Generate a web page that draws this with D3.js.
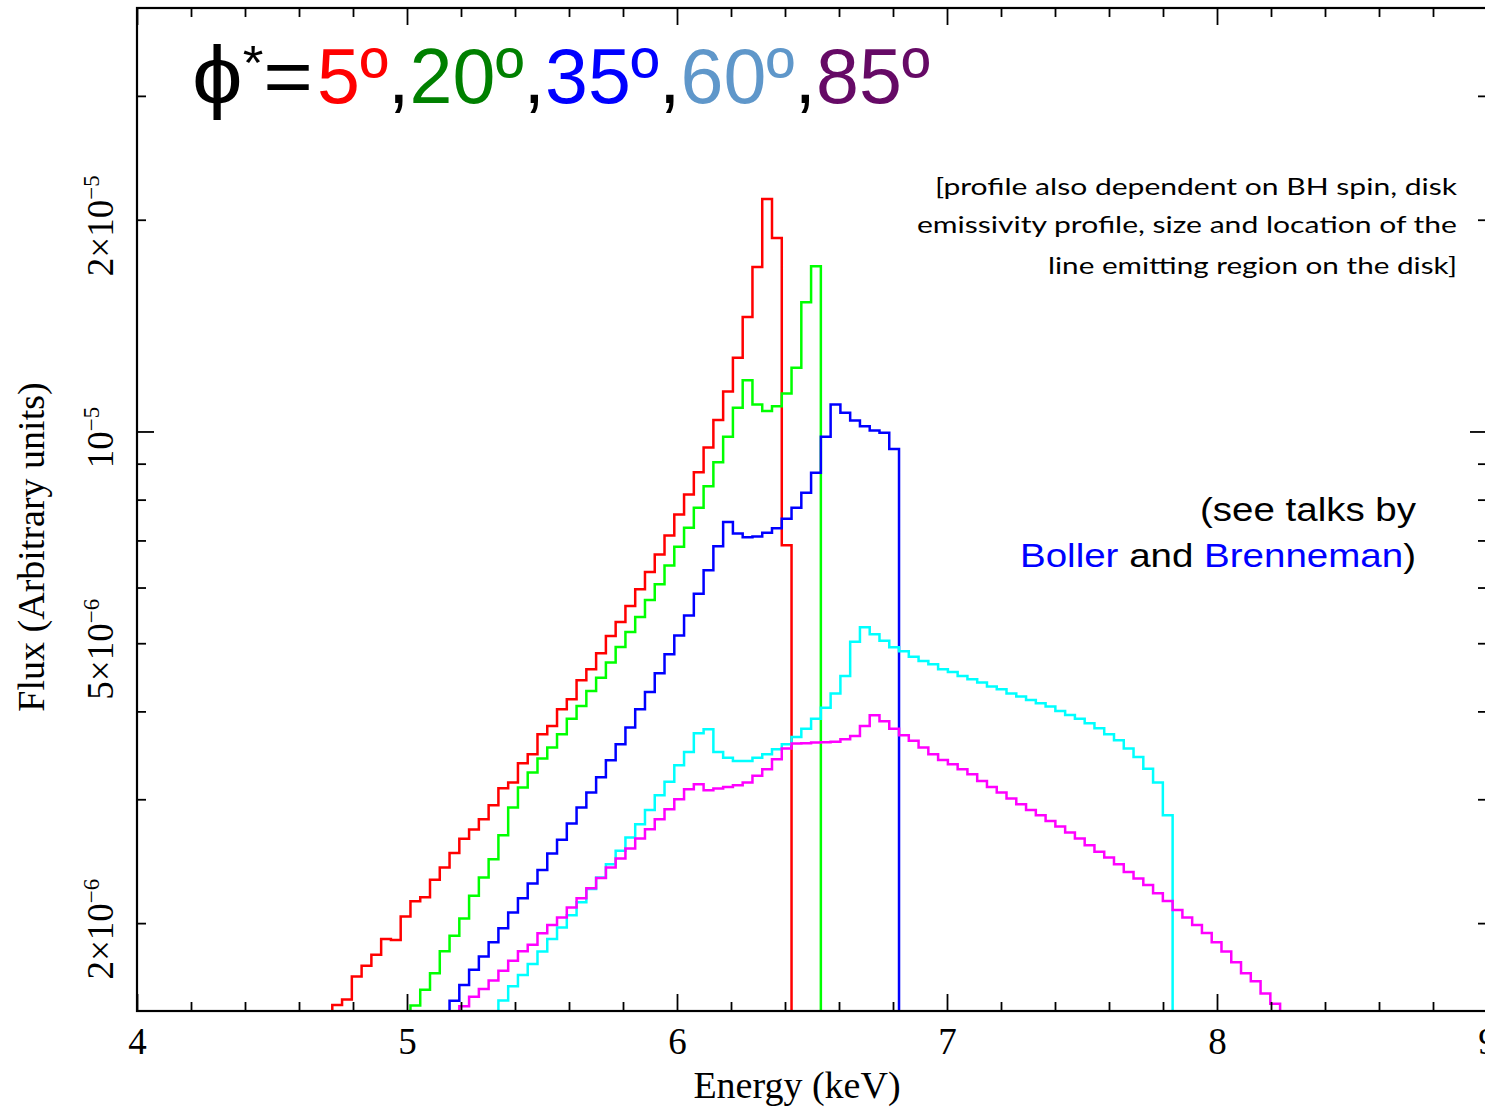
<!DOCTYPE html>
<html><head><meta charset="utf-8">
<script src="https://cdn.jsdelivr.net/npm/d3@7"></script>
<style>body{margin:0;background:#fff;} svg{display:block;}</style>
</head><body>
<svg id="chart" width="1485" height="1107"></svg>
<script>
// ---------------- DATA ----------------
// common energy grid of the model spectra (keV)
const binStart = 4.7233;
const binWidth = 0.03619;
// index of the first non-zero bin of each profile
const redFirstBin = 0, greenFirstBin = 8, blueFirstBin = 12, cyanFirstBin = 17, magentaFirstBin = 13;
// flux per bin, in units of 1e-6 (arbitrary units)
const redFlux = [1.53,1.557,1.68,1.739,1.804,1.899,1.893,2.044,2.148,2.177,2.305,2.399,2.517,2.637,2.717,2.811,2.942,3.11,3.169,3.375,3.476,3.712,3.814,4.028,4.162,4.429,4.591,4.838,5.118,5.359,5.647,5.964,6.312,6.687,7.116,7.622,8.137,8.753,9.487,10.38,11.40,12.73,14.55,17.14,21.41,18.84,6.893];
const greenFlux = [1.527,1.608,1.698,1.824,1.919,2.031,2.187,2.322,2.466,2.667,2.92,3.117,3.274,3.427,3.553,3.712,3.906,4.071,4.277,4.467,4.693,4.937,5.187,5.446,5.76,6.063,6.45,6.856,7.296,7.789,8.36,9.045,9.829,10.81,11.83,10.92,10.69,10.86,11.32,12.32,15.26,17.17];
const blueFlux = [1.551,1.633,1.717,1.793,1.878,1.967,2.071,2.17,2.277,2.379,2.512,2.627,2.771,2.92,3.068,3.223,3.409,3.592,3.793,4.028,4.263,4.531,4.822,5.13,5.477,5.88,6.347,6.87,7.433,7.163,7.075,7.09,7.18,7.286,7.512,7.789,8.183,8.736,9.829,10.92,10.63,10.37,10.17,10.03,9.958,9.446];
const cyanFlux = [1.552,1.626,1.687,1.749,1.822,1.899,1.972,2.053,2.141,2.236,2.322,2.426,2.534,2.646,2.765,2.897,3.04,3.176,3.353,3.503,3.724,3.773,3.503,3.438,3.401,3.401,3.438,3.476,3.534,3.592,3.678,3.78,3.906,4.049,4.24,4.49,5.023,5.267,5.148,5.04,4.934,4.87,4.785,4.717,4.667,4.591,4.551,4.49,4.444,4.396,4.338,4.301,4.24,4.198,4.152,4.107,4.063,4.005,3.953,3.906,3.848,3.784,3.712,3.64,3.541,3.445,3.316,3.169,2.847];
const magentaFlux = [1.524,1.571,1.612,1.657,1.711,1.768,1.824,1.864,1.934,1.987,2.037,2.105,2.17,2.242,2.318,2.399,2.471,2.553,2.639,2.72,2.811,2.904,3.001,3.101,3.152,3.091,3.108,3.123,3.141,3.169,3.239,3.31,3.42,3.542,3.601,3.604,3.612,3.616,3.62,3.652,3.691,3.814,3.949,3.874,3.779,3.7,3.632,3.553,3.476,3.412,3.364,3.31,3.256,3.186,3.123,3.068,3.008,2.952,2.897,2.847,2.795,2.744,2.691,2.639,2.581,2.526,2.479,2.426,2.364,2.314,2.265,2.205,2.15,2.087,2.037,1.987,1.936,1.878,1.822,1.759,1.698,1.654,1.589,1.536];

const xMajorTicks = [4,5,6,7,8,9];
const xTickLabels = ["4","5","6","7","8","9"];
const xMinorTicks = [4.2,4.4,4.6,4.8,5.2,5.4,5.6,5.8,6.2,6.4,6.6,6.8,7.2,7.4,7.6,7.8,8.2,8.4,8.6,8.8];
const yMajorTicks = [10];
const yMinorTicks = [2,3,4,5,6,7,8,9,20,30];
const yLabelValues = [20,10,5,2];
const yLabelMantissa = ["2×10","10","5×10","2×10"];
const yLabelExponent = ["−5","−5","−6","−6"];

const titleHead = ["ϕ","*","="];
const titleAngles = ["5º",",","20º",",","35º",",","60º",",","85º"];
const noteLines = ["[profile also dependent on BH spin, disk","emissivity profile, size and location of the","line emitting region on the disk]"];
const talkLine1 = "(see talks by";
const talkLine2 = ["Boller"," and ","Brenneman",")"];

// ---------------- STYLE / LAYOUT ----------------
const series = [
  {first: redFirstBin, vals: redFlux, color: "#ff0000"},
  {first: greenFirstBin, vals: greenFlux, color: "#00ff00"},
  {first: blueFirstBin, vals: blueFlux, color: "#0000ff"},
  {first: cyanFirstBin, vals: cyanFlux, color: "#00ffff"},
  {first: magentaFirstBin, vals: magentaFlux, color: "#ff00ff"}
];
const angleColors = ["#ff0000","#000","#008000","#000","#0000ff","#000","#5f97ca","#000","#660a66"];
const talkColors = ["#0000ff","#000","#0000ff","#000"];

const L = 137, R = 1487, T = 8, B = 1011;
const x = d3.scaleLinear().domain([4, 9]).range([L, R]);
const y = d3.scaleLog().domain([1.5, 40]).range([B, T]);

const svg = d3.select("#chart");
svg.append("rect").attr("width",1485).attr("height",1107).attr("fill","#fff");
svg.append("defs").append("clipPath").attr("id","plotclip")
  .append("rect").attr("x",L).attr("y",T).attr("width",R-L).attr("height",B-T);

// ---------------- CURVES ----------------
const yMin = y.domain()[0];
function stepPoints(first, vals){
  const pts = [];
  const e0 = binStart + first*binWidth;
  pts.push([e0, yMin]);
  vals.forEach((v,i) => pts.push([binStart + (first+i)*binWidth, v]));
  const eEnd = binStart + (first+vals.length)*binWidth;
  pts.push([eEnd, vals[vals.length-1]]);
  pts.push([eEnd, yMin]);
  return pts;
}
const line = d3.line().x(d => x(d[0])).y(d => y(d[1])).curve(d3.curveStepAfter);
const gCurves = svg.append("g").attr("clip-path","url(#plotclip)");
series.forEach(s => {
  gCurves.append("path").attr("d", line(stepPoints(s.first, s.vals)))
    .attr("fill","none").attr("stroke", s.color).attr("stroke-width",2.5)
    .attr("stroke-linejoin","miter");
});

// ---------------- AXES ----------------
function styleAxis(g){
  g.select(".domain").remove();
  g.selectAll(".tick line").attr("stroke","#000").attr("stroke-width",1.8);
}
const serif = "'Liberation Serif','Times New Roman',serif";
// bottom
svg.append("g").attr("transform",`translate(0,${B})`)
  .call(d3.axisBottom(x).tickValues(xMajorTicks).tickSize(-17).tickPadding(17)
    .tickFormat((d,i) => xTickLabels[i]))
  .call(styleAxis)
  .call(g => g.selectAll("text").attr("font-family",serif).attr("font-size",37).attr("fill","#000"));
svg.append("g").attr("transform",`translate(0,${B})`)
  .call(d3.axisBottom(x).tickValues(xMinorTicks).tickSize(-9).tickFormat(""))
  .call(styleAxis);
// top
svg.append("g").attr("transform",`translate(0,${T})`)
  .call(d3.axisTop(x).tickValues(xMajorTicks).tickSize(-17).tickFormat(""))
  .call(styleAxis);
svg.append("g").attr("transform",`translate(0,${T})`)
  .call(d3.axisTop(x).tickValues(xMinorTicks).tickSize(-9).tickFormat(""))
  .call(styleAxis);
// left
svg.append("g").attr("transform",`translate(${L},0)`)
  .call(d3.axisLeft(y).tickValues(yMajorTicks).tickSize(-17).tickFormat(""))
  .call(styleAxis);
svg.append("g").attr("transform",`translate(${L},0)`)
  .call(d3.axisLeft(y).tickValues(yMinorTicks).tickSize(-9).tickFormat(""))
  .call(styleAxis);
// right
svg.append("g").attr("transform",`translate(${R},0)`)
  .call(d3.axisRight(y).tickValues(yMajorTicks).tickSize(-17).tickFormat(""))
  .call(styleAxis);
svg.append("g").attr("transform",`translate(${R},0)`)
  .call(d3.axisRight(y).tickValues(yMinorTicks).tickSize(-9).tickFormat(""))
  .call(styleAxis);

// frame
svg.append("rect").attr("x",L).attr("y",T).attr("width",R-L).attr("height",B-T)
  .attr("fill","none").attr("stroke","#000").attr("stroke-width",2.2);

// y tick labels (rotated)
yLabelValues.forEach((v,i) => {
  const yy = y(v) + 6;
  const t = svg.append("text")
    .attr("transform",`translate(113,${yy}) rotate(-90)`)
    .attr("text-anchor","middle").attr("font-family",serif).attr("font-size",37).attr("fill","#000");
  t.append("tspan").text(yLabelMantissa[i]);
  t.append("tspan").attr("font-size",23).attr("dy",-14).text(yLabelExponent[i]);
});

// axis titles
svg.append("text").attr("x",(L+R)/2 - 15).attr("y",1098).attr("text-anchor","middle")
  .attr("font-family",serif).attr("font-size",38).attr("fill","#000").text("Energy (keV)");
svg.append("text").attr("transform","translate(44,547) rotate(-90)").attr("text-anchor","middle")
  .attr("font-family",serif).attr("font-size",38).attr("fill","#000").text("Flux (Arbitrary units)");

// ---------------- TITLE ----------------
const sans = "'Liberation Sans',Arial,'DejaVu Sans',sans-serif";
const head = svg.append("text").attr("x",192).attr("y",103)
  .attr("font-family",sans).attr("font-size",77).attr("fill","#000")
  .attr("textLength",121).attr("lengthAdjust","spacingAndGlyphs");
head.append("tspan").attr("font-size",82).text(titleHead[0]);
head.append("tspan").attr("font-size",48).attr("dy",-24).text(titleHead[1]);
head.append("tspan").attr("dy",24).text(titleHead[2]);
const angles = svg.append("text").attr("x",317).attr("y",103)
  .attr("font-family",sans).attr("font-size",77)
  .attr("textLength",613).attr("lengthAdjust","spacingAndGlyphs");
titleAngles.forEach((p,i) => angles.append("tspan").attr("fill",angleColors[i]).text(p));

// ---------------- NOTES ----------------
const noteFont = "Lato,'Open Sans','DejaVu Sans',sans-serif";
const noteLeft = [935, 917, 1048];
const noteBase = [195, 233, 274];
noteLines.forEach((s,i) => {
  svg.append("text").attr("x",noteLeft[i]).attr("y",noteBase[i])
    .attr("font-family",noteFont).attr("font-size",24).attr("fill","#000")
    .attr("textLength",1457-noteLeft[i]).attr("lengthAdjust","spacingAndGlyphs").text(s);
});
svg.append("text").attr("x",1200).attr("y",521)
  .attr("font-family",sans).attr("font-size",33).attr("fill","#000")
  .attr("textLength",216).attr("lengthAdjust","spacingAndGlyphs").text(talkLine1);
const t2 = svg.append("text").attr("x",1020).attr("y",567)
  .attr("font-family",sans).attr("font-size",33)
  .attr("textLength",396).attr("lengthAdjust","spacingAndGlyphs");
talkLine2.forEach((p,i) => t2.append("tspan").attr("fill",talkColors[i]).text(p));
</script>
</body></html>
